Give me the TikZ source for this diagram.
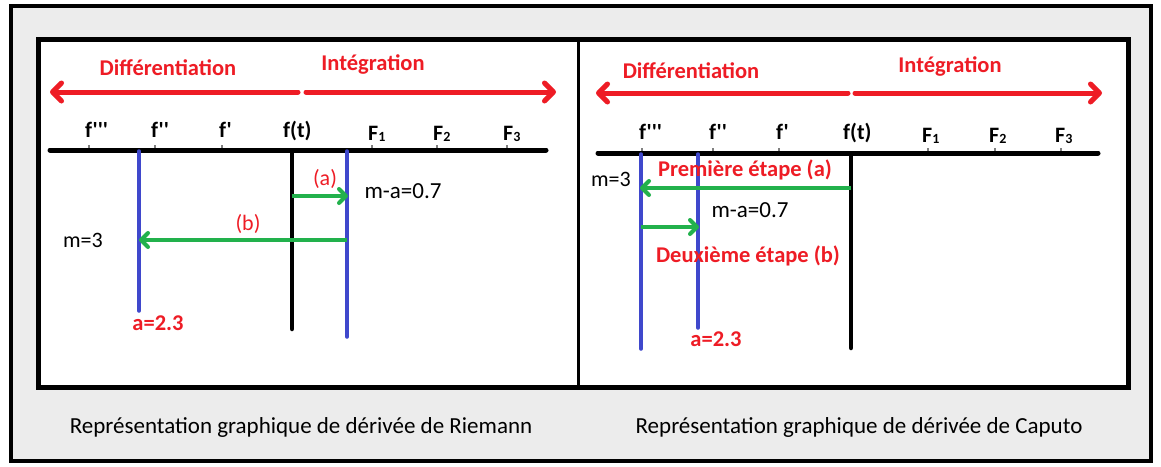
\documentclass[tikz,border=0pt]{standalone}
\usepackage{fontspec}
\setmainfont{Carlito}
\newfontfamily\labfont{Carlito}[Ligatures=ResetAll]
\usetikzlibrary{arrows.meta}
\definecolor{bgray}{HTML}{ECECEC}
\definecolor{myred}{HTML}{EE1C25}
\definecolor{myblue}{HTML}{3F48CC}
\definecolor{mygreen}{HTML}{22B14C}
\tikzset{
  redarrow/.style={draw=myred,line width=5pt,line cap=round,-{Straight Barb[length=9pt,width=18pt,line width=5pt,round]}},
  greenarrow/.style={draw=mygreen,line width=4pt,-{Straight Barb[length=7pt,width=14pt,line width=4pt,round]}},
  axisline/.style={draw=black,line width=5pt,line cap=round},
  blueline/.style={draw=myblue,line width=3.5pt,line cap=round},
  blackline/.style={draw=black,line width=4.5pt,line cap=round},
  head/.style={text=myred,font=\fontsize{22.5}{26}\selectfont\bfseries,inner sep=0pt},
  redlab/.style={text=myred,font=\fontsize{22.5}{26}\selectfont\bfseries,inner sep=0pt},
  redpar/.style={text=myred,font=\fontsize{22}{24}\selectfont,inner sep=0pt},
  axlab/.style={font=\labfont\fontsize{22}{24}\selectfont\bfseries,inner sep=0pt,anchor=base west},
  mlab/.style={font=\fontsize{23}{26}\selectfont,inner sep=0pt},
  mthree/.style={font=\fontsize{22}{24}\selectfont,inner sep=0pt},
  caption/.style={font=\fontsize{23}{26}\selectfont,inner sep=0pt},
  tick/.style={draw=gray,line width=1.2pt},
}
\newcommand{\Fsub}[1]{F\raisebox{-1pt}{\fontsize{14}{14}\selectfont #1}}
\begin{document}
\begin{tikzpicture}[x=1pt,y=-1pt]
\useasboundingbox (0,0) rectangle (1161,466);
% frames
\draw[fill=bgray,line width=4pt] (11,6) rectangle (1151,461);
\draw[fill=white,line width=5pt] (38,39) rectangle (1128,387);
\draw[line width=3pt] (578,39) -- (578,387);

% ===== Left panel =====
\node[head] (ld) at (168,68) {Différentiation};
\node[head] (li) at (373,64) {Intégration};
\coordinate (lm1) at (298,92);
\coordinate (lm2) at (306,92);
\coordinate (ll) at (50,92);
\coordinate (lr) at (556,92);
\draw[redarrow] (lm1) -- (ll);
\draw[redarrow] (lm2) -- (lr);

\coordinate (la0) at (50,150);
\coordinate (la1) at (546,150);
\foreach \x in {89,155,222,372,437,507} \draw[tick] (\x,145) -- (\x,148);
\draw[axisline] (la0) -- (la1);
\node[axlab] (l3) at (85,137) {f'''};
\node[axlab] (l2) at (151,137) {f''};
\node[axlab] (l1) at (219,137) {f'};
\node[axlab] (l0) at (283,137) {f(t)};
\node[axlab] (lF1) at (368,140) {\Fsub{1}};
\node[axlab] (lF2) at (433,140) {\Fsub{2}};
\node[axlab] (lF3) at (503,140) {\Fsub{3}};

\coordinate (lbA0) at (139,151);
\coordinate (lbA1) at (139,311);
\coordinate (lk0) at (292,151);
\coordinate (lk1) at (292,329);
\coordinate (lbB0) at (347,151);
\coordinate (lbB1) at (347,337);
\draw[blueline] (lbA0) -- (lbA1);
\draw[blackline] (lk0) -- (lk1);
\draw[blueline] (lbB0) -- (lbB1);

\coordinate (lga0) at (292,196);
\coordinate (lga1) at (348,196);
\draw[greenarrow] (lga0) -- (lga1);
\coordinate (lgb0) at (347,240);
\coordinate (lgb1) at (139,240);
\draw[greenarrow] (lgb0) -- (lgb1);
\node[redpar] (la) at (325,179) {(a)};
\node[redpar] (lb) at (248,224) {(b)};
\node[mlab] (lma) at (403,191) {m-a=0.7};
\node[mthree] (lm) at (83,240) {m=3};
\node[redlab] (laa) at (158,323) {a=2.3};
\node[caption] (lcap) at (301,427) {Représentation graphique de dérivée de Riemann};

% ===== Right panel =====
\node[head] (rd) at (691,71) {Différentiation};
\node[head] (ri) at (950,66) {Intégration};
\coordinate (rm1) at (848,93);
\coordinate (rm2) at (855,93);
\coordinate (rl) at (596,93);
\coordinate (rr) at (1102,93);
\draw[redarrow] (rm1) -- (rl);
\draw[redarrow] (rm2) -- (rr);

\coordinate (ra0) at (598,153);
\coordinate (ra1) at (1098,153);
\foreach \x in {642,713,779,928,995,1061} \draw[tick] (\x,148) -- (\x,151);
\draw[axisline] (ra0) -- (ra1);
\node[axlab] (r3) at (639,139) {f'''};
\node[axlab] (r2) at (709,139) {f''};
\node[axlab] (r1) at (776,139) {f'};
\node[axlab] (r0) at (843,139) {f(t)};
\node[axlab] (rF1) at (922,142) {\Fsub{1}};
\node[axlab] (rF2) at (989,142) {\Fsub{2}};
\node[axlab] (rF3) at (1055,142) {\Fsub{3}};

\coordinate (rbA0) at (641,154);
\coordinate (rbA1) at (641,349);
\coordinate (rbB0) at (698,154);
\coordinate (rbB1) at (698,328);
\coordinate (rk0) at (851,154);
\coordinate (rk1) at (851,348);
\draw[blueline] (rbA0) -- (rbA1);
\draw[blueline] (rbB0) -- (rbB1);
\draw[blackline] (rk0) -- (rk1);

\node[redlab] (rpa) at (745,170) {Première étape (a)};
\coordinate (rga0) at (851,188);
\coordinate (rga1) at (640,188);
\draw[greenarrow] (rga0) -- (rga1);
\node[mthree] (rm) at (611,179) {m=3};
\node[mlab] (rma) at (750,210) {m-a=0.7};
\coordinate (rgb0) at (641,227);
\coordinate (rgb1) at (699,227);
\draw[greenarrow] (rgb0) -- (rgb1);
\node[redlab] (rdb) at (748,256) {Deuxième étape (b)};
\node[redlab] (raa) at (716,339) {a=2.3};
\node[caption] (rcap) at (859,427) {Représentation graphique de dérivée de Caputo};
\end{tikzpicture}
\end{document}
